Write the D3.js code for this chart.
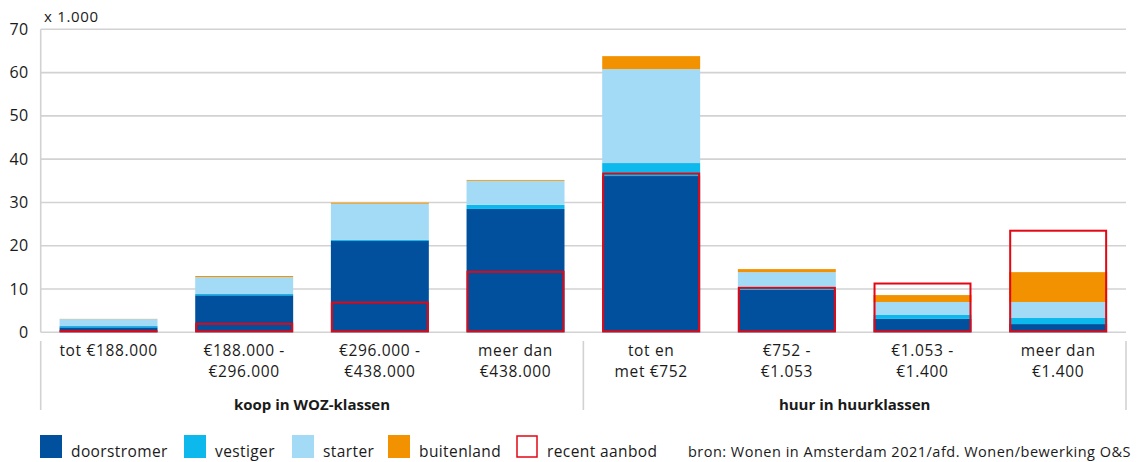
<!DOCTYPE html>
<html>
<head>
<meta charset="utf-8">
<script src="https://cdn.jsdelivr.net/npm/d3@7"></script>
<style>
  html, body { margin: 0; padding: 0; background: #fff; }
  svg { display: block; font-family: "Open Sans", Lato, sans-serif; }
</style>
</head>
<body>
<svg id="chart" width="1147" height="462"></svg>
<script>
// ---- data ----
const categories = ["c1","c2","c3","c4","c5","c6","c7","c8"];
const categoryLines = [
  ["tot €188.000"],
  ["€188.000 -","€296.000"],
  ["€296.000 -","€438.000"],
  ["meer dan","€438.000"],
  ["tot en","met €752"],
  ["€752 -","€1.053"],
  ["€1.053 -","€1.400"],
  ["meer dan","€1.400"]
];
const groups = ["koop in WOZ-klassen", "huur in huurklassen"];
const groupSize = [4, 4];
const seriesNames = ["doorstromer","vestiger","starter","buitenland"];
const doorstromer = [1.15, 8.55, 21.1, 28.5, 36.1, 9.8, 3.1, 1.9];
const vestiger    = [0.3, 0.3, 0.3, 0.95, 3.0, 0.6, 0.9, 1.4];
const starter     = [1.6, 3.9, 8.3, 5.55, 21.7, 3.5, 3.0, 3.7];
const buitenland  = [0.05, 0.25, 0.25, 0.2, 3.0, 0.7, 1.6, 6.9];
const recentAanbod = [0.5, 2.2, 7.1, 14.2, 36.9, 10.5, 11.5, 23.7];
const yTicks = [0, 10, 20, 30, 40, 50, 60, 70];
const unitLabel = "x 1.000";
const sourceText = "bron: Wonen in Amsterdam 2021/afd. Wonen/bewerking O&S";

const colors = { doorstromer: "#00509e", vestiger: "#0cb8ec", starter: "#a3daf6", buitenland: "#f39200", recent: "#e30613" };

// ---- layout ----
const svg = d3.select("#chart");
const pLeft = 40.7, pRight = 1126, pTop = 29.3, pBottom = 332.3;

const x = d3.scaleBand().domain(categories).range([pLeft, pRight]).paddingInner(0.278).paddingOuter(0.139);
const y = d3.scaleLinear().domain([0, 70]).range([pBottom, pTop]);

// gridlines
svg.append("g").selectAll("line").data(yTicks).join("line")
  .attr("x1", pLeft).attr("x2", pRight)
  .attr("y1", d => y(d)).attr("y2", d => y(d))
  .attr("stroke", "#d2d2d2").attr("stroke-width", 1.6);
// left axis line
svg.append("line").attr("x1", pLeft).attr("x2", pLeft).attr("y1", pTop).attr("y2", pBottom)
  .attr("stroke", "#d2d2d2").attr("stroke-width", 1.6);

// y axis labels via d3 axis
const yAxis = svg.append("g").attr("transform", `translate(${pLeft},0)`)
  .call(d3.axisLeft(y).tickValues(yTicks).tickSize(0).tickPadding(12));
yAxis.select(".domain").remove();
yAxis.selectAll("text").attr("font-size", 16).attr("fill", "#1a1a1a")
  .attr("font-family", "'Open Sans', sans-serif").attr("letter-spacing", 0.5);

svg.append("text").attr("x", 44).attr("y", 22).attr("font-size", 15).attr("letter-spacing", 0.7)
  .attr("fill", "#1a1a1a").text(unitLabel);

// stacked bars
const table = categories.map((c, i) => ({ cat: c, doorstromer: doorstromer[i], vestiger: vestiger[i], starter: starter[i], buitenland: buitenland[i] }));
const stack = d3.stack().keys(seriesNames)(table);
svg.append("g").selectAll("g").data(stack).join("g")
  .attr("fill", d => colors[d.key])
  .selectAll("rect").data(d => d).join("rect")
  .attr("x", d => x(d.data.cat))
  .attr("width", x.bandwidth())
  .attr("y", d => y(d[1]))
  .attr("height", d => Math.max(0, y(d[0]) - y(d[1])));

// recent aanbod boxes
svg.append("g").selectAll("rect").data(recentAanbod).join("rect")
  .attr("x", (d, i) => x(categories[i]) + 1)
  .attr("width", x.bandwidth() - 2)
  .attr("y", d => y(d) + 1)
  .attr("height", d => Math.max(0, y(0) - y(d) - 2))
  .attr("fill", "none")
  .attr("stroke", colors.recent).attr("stroke-width", 2);

// category labels
const catG = svg.append("g").attr("font-size", 15.5).attr("letter-spacing", 0.65)
  .attr("fill", "#1a1a1a").attr("text-anchor", "middle");
categoryLines.forEach((lines, i) => {
  const cx = x(categories[i]) + x.bandwidth() / 2;
  lines.forEach((t, j) => {
    catG.append("text").attr("x", cx).attr("y", 356 + j * 21).text(t);
  });
});

// group separators & labels
const sepTop = 341, sepBottom = 410;
let idx = 0;
const sepXs = [pLeft];
groups.forEach((g, gi) => {
  const first = categories[idx], last = categories[idx + groupSize[gi] - 1];
  const x0 = gi === 0 ? pLeft : x(first) - x.step() * x.paddingInner() / 2;
  const x1 = gi === groups.length - 1 ? pRight : x(last) + x.bandwidth() + x.step() * x.paddingInner() / 2;
  sepXs.push(x1);
  svg.append("text").attr("x", (x0 + x1) / 2).attr("y", 410)
    .attr("text-anchor", "middle").attr("font-size", 15).attr("font-weight", "bold").attr("fill", "#1a1a1a").text(g);
  idx += groupSize[gi];
});
svg.append("g").selectAll("line").data(sepXs).join("line")
  .attr("x1", d => d).attr("x2", d => d).attr("y1", sepTop).attr("y2", sepBottom)
  .attr("stroke", "#d2d2d2").attr("stroke-width", 1.6);

// legend
const legendItems = [
  { name: "doorstromer", color: colors.doorstromer, x: 40 },
  { name: "vestiger", color: colors.vestiger, x: 184 },
  { name: "starter", color: colors.starter, x: 292 },
  { name: "buitenland", color: colors.buitenland, x: 388 },
  { name: "recent aanbod", color: null, x: 516 }
];
const lg = svg.append("g");
legendItems.forEach(it => {
  if (it.color) {
    lg.append("rect").attr("x", it.x).attr("y", 435).attr("width", 22).attr("height", 23).attr("fill", it.color);
  } else {
    lg.append("rect").attr("x", it.x + 1).attr("y", 436).attr("width", 20).attr("height", 21)
      .attr("fill", "#fff").attr("stroke", colors.recent).attr("stroke-width", 1.5);
  }
  lg.append("text").attr("x", it.x + 31).attr("y", 457).attr("font-size", 15.5).attr("letter-spacing", 0.4)
    .attr("fill", "#1a1a1a").text(it.name);
});
svg.append("text").attr("x", 1131).attr("y", 457).attr("text-anchor", "end")
  .attr("font-size", 14.5).attr("letter-spacing", 0.5).attr("fill", "#1a1a1a").text(sourceText);
</script>
</body>
</html>
